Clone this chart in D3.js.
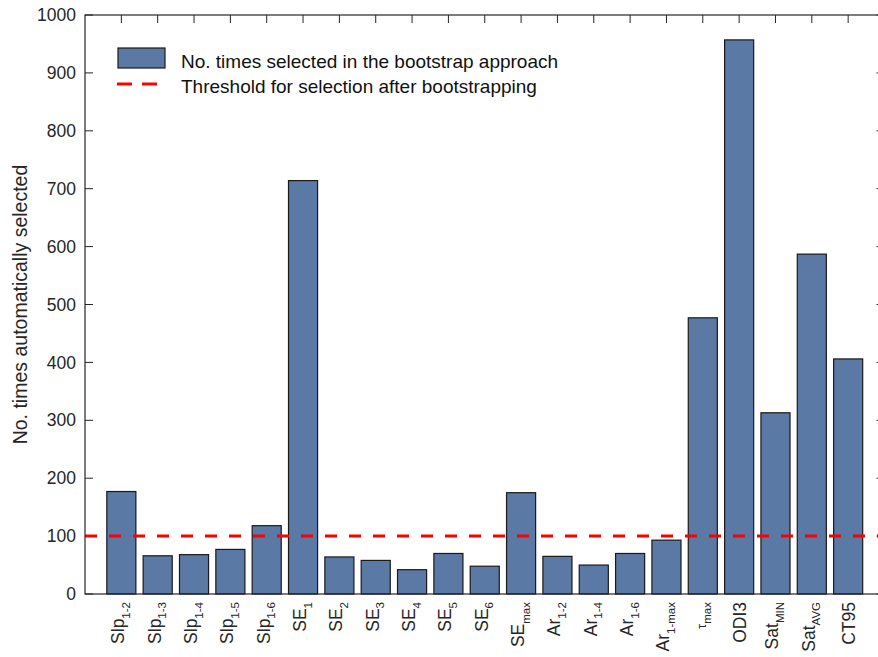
<!DOCTYPE html>
<html>
<head>
<meta charset="utf-8">
<script src="https://cdn.jsdelivr.net/npm/d3@7"></script>
<style>
  html, body { margin: 0; padding: 0; background: #fff; }
  svg { display: block; font-family: "Liberation Sans", Arial, sans-serif; }
</style>
</head>
<body>
<svg id="chart" width="878" height="657"></svg>
<script>
// Predictor names: main part and subscript
const names = ["Slp","Slp","Slp","Slp","Slp","SE","SE","SE","SE","SE","SE","SE","Ar","Ar","Ar","Ar","\u03C4","ODI3","Sat","Sat","CT95"];
const subs  = ["1-2","1-3","1-4","1-5","1-6","1","2","3","4","5","6","max","1-2","1-4","1-6","1-max","max","","MIN","AVG",""];
// Number of times each predictor was picked across bootstrap runs
const counts = [177, 66, 68, 77, 118, 714, 64, 58, 42, 70, 48, 175, 65, 50, 70, 93, 477, 957, 313, 587, 406];
const threshold = 100;
const yTicks = [0, 100, 200, 300, 400, 500, 600, 700, 800, 900, 1000];
const legendLabels = ["No. times selected in the bootstrap approach", "Threshold for selection after bootstrapping"];

const svg = d3.select("#chart");
const plotL = 85, plotR = 884.5, plotT = 15, plotB = 594;
const axisColor = "#262626";
const barColor = "#5a79a5";

const ids = names.map((n, i) => i);
const x = d3.scaleBand().domain(ids).range([plotL, plotR]).paddingInner(0.2).paddingOuter(0.6);
const y = d3.scaleLinear().domain([0, 1000]).range([plotB, plotT]);

const g = svg.append("g");
const tl = 8;

// Inward ticks on all four sides
g.selectAll(".ytl").data(yTicks).join("line")
  .attr("x1", plotL).attr("x2", plotL + tl)
  .attr("y1", d => y(d)).attr("y2", d => y(d))
  .attr("stroke", axisColor).attr("stroke-width", 1);
g.selectAll(".ytr").data(yTicks).join("line")
  .attr("x1", plotR).attr("x2", plotR - tl)
  .attr("y1", d => y(d)).attr("y2", d => y(d))
  .attr("stroke", axisColor).attr("stroke-width", 1);
g.selectAll(".xtt").data(ids).join("line")
  .attr("x1", d => x(d) + x.bandwidth() / 2).attr("x2", d => x(d) + x.bandwidth() / 2)
  .attr("y1", plotT).attr("y2", plotT + tl)
  .attr("stroke", axisColor).attr("stroke-width", 1);

// Bars
g.selectAll(".bar").data(counts).join("rect")
  .attr("x", (d, i) => x(i))
  .attr("y", d => y(d))
  .attr("width", x.bandwidth())
  .attr("height", d => plotB - y(d))
  .attr("fill", barColor)
  .attr("stroke", "#1a1a1a")
  .attr("stroke-width", 1.2);

// Threshold line
g.append("line")
  .attr("x1", plotL).attr("x2", plotR)
  .attr("y1", y(threshold)).attr("y2", y(threshold))
  .attr("stroke", "#ff0000").attr("stroke-width", 3)
  .attr("stroke-dasharray", "12,12");

// Axes box
g.append("rect")
  .attr("x", plotL).attr("y", plotT)
  .attr("width", plotR - plotL).attr("height", plotB - plotT)
  .attr("fill", "none").attr("stroke", axisColor).attr("stroke-width", 1.2);

// Y tick labels
g.selectAll(".ylab").data(yTicks).join("text")
  .attr("x", plotL - 9).attr("y", d => y(d))
  .attr("dy", "0.35em")
  .attr("text-anchor", "end")
  .attr("font-size", 17.5)
  .attr("fill", axisColor)
  .text(d => d);

// Y axis title
g.append("text")
  .attr("transform", `translate(27, ${(plotT + plotB) / 2}) rotate(-90)`)
  .attr("text-anchor", "middle")
  .attr("font-size", 19.5)
  .attr("fill", axisColor)
  .text("No. times automatically selected");

// X category labels, rotated, with subscripts
const xl = g.selectAll(".xlab").data(ids).join("text")
  .attr("transform", d => {
    const cx = x(d) + x.bandwidth() / 2 + (subs[d] ? 3 : 6.5);
    return `translate(${cx}, ${plotB + 8}) rotate(-90)`;
  })
  .attr("text-anchor", "end")
  .attr("font-size", 17.5)
  .attr("fill", axisColor);
xl.append("tspan").attr("font-size", d => names[d] === "\u03C4" ? 13 : 17.5).text(d => names[d]);
xl.append("tspan")
  .attr("font-size", 11.5)
  .attr("dy", d => subs[d] ? 5.5 : 0)
  .text(d => subs[d]);

// Legend
const lg = g.append("g");
lg.append("rect").attr("x", 118).attr("y", 48).attr("width", 47).attr("height", 20)
  .attr("fill", barColor).attr("stroke", "#1a1a1a").attr("stroke-width", 1.2);
lg.append("line").attr("x1", 117).attr("x2", 159).attr("y1", 84).attr("y2", 84)
  .attr("stroke", "#ff0000").attr("stroke-width", 3).attr("stroke-dasharray", "15,10");
lg.selectAll(".lt").data(legendLabels).join("text")
  .attr("x", 181).attr("y", (d, i) => 61 + i * 25)
  .attr("dy", "0.35em")
  .attr("font-size", 19)
  .attr("fill", "#111")
  .text(d => d);
</script>
</body>
</html>
